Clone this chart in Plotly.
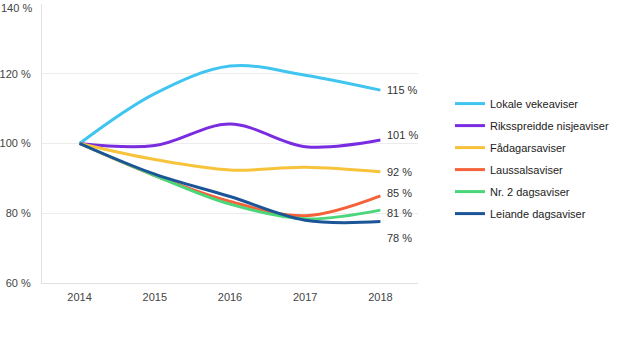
import plotly.graph_objects as go

years = ["2014", "2015", "2016", "2017", "2018"]
series_names = ["Lokale vekeaviser", "Riksspreidde nisjeaviser", "Fådagarsaviser",
                "Laussalsaviser", "Nr. 2 dagsaviser", "Leiande dagsaviser"]
lokale = [100, 114.3, 122.2, 119.6, 115.3]
riks = [100, 99.4, 105.6, 99.1, 101.0]
faadagar = [100, 95.4, 92.4, 93.2, 91.9]
laussal = [100, 90.8, 83.4, 79.3, 85.0]
nr2 = [100, 90.8, 82.6, 78.4, 80.9]
leiande = [100, 91.2, 84.8, 78.0, 77.6]
end_labels = ["115 %", "101 %", "92 %", "85 %", "81 %", "78 %"]
label_yshift = [0, 5, 0, 3, -3, -16]
colors = ["#3fc5f0", "#7a2de0", "#f6c33b", "#f5623a", "#4bd67a", "#1b5497"]
y_ticks = [60, 80, 100, 120, 140]

values = [lokale, riks, faadagar, laussal, nr2, leiande]
tick_font = dict(size=11, color="#444444", family="Liberation Sans, Arial")

fig = go.Figure()
for i, (name, vals) in enumerate(zip(series_names, values)):
    fig.add_trace(go.Scatter(
        x=years, y=vals, name=name, mode="lines",
        line=dict(color=colors[i], width=3, shape="spline", smoothing=1.0),
        legendgroup=name,
    ))
    fig.add_annotation(x=len(years) - 1, y=vals[-1], text=end_labels[i], showarrow=False,
                       xanchor="left", yanchor="middle", xshift=5, yshift=label_yshift[i],
                       font=dict(size=11, color="#333333", family="Liberation Sans, Arial"))

# top tick label (Plotly hides it because it overflows the page top)
fig.add_annotation(xref="paper", x=0, xshift=-8, xanchor="right", yref="y", y=y_ticks[-1],
                   yanchor="middle", yshift=-4, text=f"{y_ticks[-1]} %", showarrow=False,
                   font=tick_font)

fig.update_layout(
    width=618, height=338,
    margin=dict(l=42, r=200, t=4, b=55),
    paper_bgcolor="white", plot_bgcolor="white",
    font=dict(family="Liberation Sans, Arial", size=11, color="#444444"),
    showlegend=True,
    legend=dict(x=1.085, y=0.695, xanchor="left", yanchor="top",
                font=dict(size=11, color="#222222"), tracegroupgap=3,
                bgcolor="rgba(0,0,0,0)"),
)
fig.update_xaxes(type="category", range=[-0.5, len(years) - 0.5], showgrid=False,
                 showline=True, linecolor="#e0e0e0", ticklabelstandoff=4, automargin=False,
                 linewidth=1, ticks="", tickfont=tick_font)
fig.update_yaxes(range=[60, 140], tickmode="array", tickvals=y_ticks,
                 ticktext=[f"{v} %" for v in y_ticks], showgrid=True,
                 gridcolor="#ececec", showline=True, linecolor="#e0e0e0",
                 ticklabelstandoff=8, automargin=False,
                 zeroline=False, tickfont=tick_font)

fig.write_html("out.html")
